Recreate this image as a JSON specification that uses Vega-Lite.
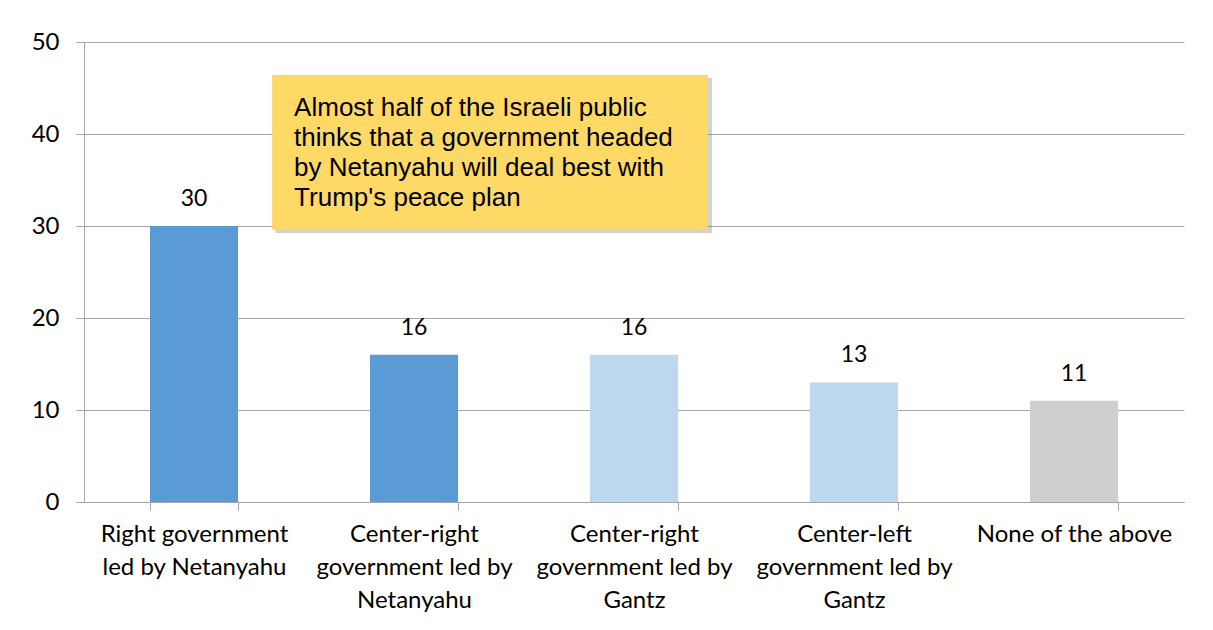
{
  "$schema": "https://vega.github.io/schema/vega-lite/v6.json",
  "width": 1100,
  "height": 460,
  "autosize": "none",
  "padding": {"left": 84, "top": 42, "right": 29, "bottom": 128},
  "background": "white",
  "config": {"view": {"stroke": null}, "font": "Lato"},
  "layer": [
    {
      "data": {"values": [
        {"cat": "Right government|led by Netanyahu", "value": 30, "group": "a"},
        {"cat": "Center-right|government led by|Netanyahu", "value": 16, "group": "a"},
        {"cat": "Center-right |government led by|Gantz", "value": 16, "group": "b"},
        {"cat": "Center-left|government led by|Gantz", "value": 13, "group": "b"},
        {"cat": "None of the above", "value": 11, "group": "c"}
      ]},
      "layer": [
        {
          "mark": {"type": "bar"},
          "encoding": {
            "x": {"field": "cat", "type": "nominal", "sort": null,
              "scale": {"paddingInner": 0.6, "paddingOuter": 0.3},
              "axis": {"title": null, "labelAngle": 0, "labelExpr": "split(datum.label, '|')",
                "labelFont": "Lato", "labelFontSize": 24, "labelColor": "#000000", "labelLineHeight": 33,
                "labelPadding": 12, "tickBand": "extent", "tickSize": 8, "tickColor": "#A6A6A6",
                "domainColor": "#A6A6A6", "grid": false, "labelLimit": 300}},
            "y": {"field": "value", "type": "quantitative",
              "scale": {"domain": [0, 50], "nice": false},
              "axis": {"title": null, "values": [0, 10, 20, 30, 40, 50], "labelFont": "Lato", "labelFontSize": 24,
                "labelColor": "#000000", "labelPadding": 17, "tickSize": 8, "tickColor": "#A6A6A6",
                "domainColor": "#A6A6A6", "gridColor": "#A6A6A6", "gridWidth": 1}},
            "color": {"field": "group", "type": "nominal", "legend": null,
              "scale": {"domain": ["a", "b", "c"], "range": ["#5B9BD5", "#BDD7EE", "#D0CECE"]}}
          }
        },
        {
          "mark": {"type": "text", "baseline": "alphabetic", "dy": -20, "font": "Lato", "fontSize": 23, "color": "#000000"},
          "encoding": {
            "x": {"field": "cat", "type": "nominal", "sort": null},
            "y": {"field": "value", "type": "quantitative"},
            "text": {"field": "value", "type": "quantitative"}
          }
        }
      ]
    },
    {
      "data": {"values": [{"note": "annotation"}]},
      "layer": [
        {
          "mark": {"type": "rect", "color": "#7F7F7F", "opacity": 0.35},
          "encoding": {
            "x": {"datum": 0.87, "type": "quantitative", "scale": {"domain": [0, 5], "nice": false, "zero": false}, "axis": null},
            "x2": {"datum": 2.855},
            "y": {"datum": 29.25, "type": "quantitative"},
            "y2": {"datum": 46.1}
          }
        },
        {
          "mark": {"type": "rect", "color": "#FFD966"},
          "encoding": {
            "x": {"datum": 0.855, "type": "quantitative"},
            "x2": {"datum": 2.836},
            "y": {"datum": 29.6, "type": "quantitative"},
            "y2": {"datum": 46.4}
          }
        },
        {
          "mark": {"type": "text", "align": "left", "baseline": "alphabetic", "font": "Liberation Sans", "fontSize": 26, "lineHeight": 30, "color": "#000000"},
          "encoding": {
            "x": {"datum": 0.955, "type": "quantitative"},
            "y": {"datum": 41.96, "type": "quantitative"},
            "text": {"value": ["Almost half of the Israeli public", "thinks that a government headed", "by Netanyahu will deal best with", "Trump's peace plan"]}
          }
        }
      ]
    }
  ],
  "resolve": {"scale": {"x": "independent"}}
}
